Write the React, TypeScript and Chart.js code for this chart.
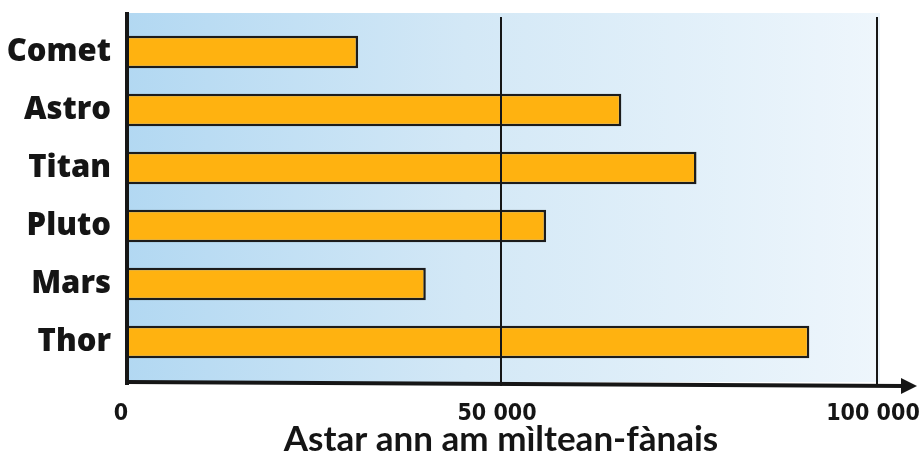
import React, { useEffect, useRef } from "react";
import { Chart, registerables } from "chart.js";

Chart.register(...registerables);

const categories = ["Comet", "Astro", "Titan", "Pluto", "Mars", "Thor"];
const values = [31000, 66000, 76000, 56000, 40000, 91000];
const tickValues = [0, 50000, 100000];
const tickLabels = ["0", "50 000", "100 000"];
const axisTitle = "Astar ann am mìltean-fànais";

const decorPlugin = {
  id: "decor",
  beforeDatasetsDraw(chart: any) {
    const { ctx, chartArea } = chart;
    const xs = chart.scales.x;
    const left = chartArea.left;
    const right = xs.getPixelForValue(100000) + 3;
    const top = chartArea.top - 10;
    const bottom = chartArea.bottom + 11;
    ctx.save();
    const g = ctx.createLinearGradient(left, 0, right, 0);
    g.addColorStop(0, "#b2d8f2");
    g.addColorStop(0.45, "#d3e8f6");
    g.addColorStop(1, "#eef6fc");
    ctx.fillStyle = g;
    ctx.fillRect(left, top, right - left, bottom - top);
    ctx.restore();
  },
  afterDatasetsDraw(chart: any) {
    const { ctx, chartArea } = chart;
    const xs = chart.scales.x;
    const left = chartArea.left;
    const bottom = chartArea.bottom + 11;
    ctx.save();
    ctx.strokeStyle = "#161616";
    ctx.lineWidth = 2;
    tickValues.forEach((v) => {
      if (v === 0) return;
      const px = xs.getPixelForValue(v);
      ctx.beginPath();
      ctx.moveTo(px, chartArea.top - 6);
      ctx.lineTo(px, bottom + 4);
      ctx.stroke();
    });
    ctx.lineWidth = 4;
    ctx.beginPath();
    ctx.moveTo(left + 2, chartArea.top - 11);
    ctx.lineTo(left + 2, bottom + 3);
    ctx.stroke();
    const axisEnd = xs.getPixelForValue(100000) + 28;
    ctx.lineWidth = 4;
    ctx.beginPath();
    ctx.moveTo(left, bottom);
    ctx.lineTo(axisEnd, bottom + 4);
    ctx.stroke();
    ctx.fillStyle = "#161616";
    ctx.beginPath();
    ctx.moveTo(axisEnd + 12, bottom + 4);
    ctx.lineTo(axisEnd - 4, bottom - 4);
    ctx.lineTo(axisEnd - 4, bottom + 12);
    ctx.closePath();
    ctx.fill();
    ctx.restore();
  },
};

export default function App() {
  const ref = useRef<HTMLCanvasElement | null>(null);
  useEffect(() => {
    if (!ref.current) return;
    const chart = new Chart(ref.current, {
      type: "bar",
      data: {
        labels: categories,
        datasets: [
          {
            data: values,
            backgroundColor: (c: any) => {
              const chartObj = c.chart;
              const el = c.element;
              if (!el || !chartObj.chartArea) return "#ffb210";
              const props = el.getProps ? el.getProps(["y", "height"], true) : el;
              const y0 = props.y - props.height / 2;
              const y1 = props.y + props.height / 2;
              if (!isFinite(y0) || !isFinite(y1) || y0 === y1) return "#ffb210";
              const g = chartObj.ctx.createLinearGradient(0, y0, 0, y1);
              g.addColorStop(0, "#ffc62a");
              g.addColorStop(0.5, "#ffb40c");
              g.addColorStop(1, "#fb9a00");
              return g;
            },
            borderColor: "#1c1c1c",
            borderWidth: 2.5,
            borderSkipped: false,
            barPercentage: 0.9,
            categoryPercentage: 0.62,
          },
        ],
      },
      options: {
        indexAxis: "y",
        animation: false,
        responsive: false,
        maintainAspectRatio: false,
        layout: { padding: { top: 23, right: 43, bottom: 0, left: 0 } },
        plugins: { legend: { display: false }, tooltip: { enabled: false } },
        scales: {
          x: {
            type: "linear",
            min: 0,
            max: 100000,
            afterBuildTicks: (s: any) => {
              s.ticks = tickValues.map((v) => ({ value: v }));
            },
            afterFit: (s: any) => {
              s.height = 84;
              s.paddingLeft = 0;
              s.paddingRight = 0;
            },
            grid: { display: false, drawTicks: false },
            border: { display: false },
            ticks: {
              padding: 29,
              labelOffset: -4,
              color: "#151515",
              font: { family: "DejaVu Sans Condensed", size: 23, weight: "bold" },
              callback: (v: any) => {
                const i = tickValues.indexOf(Number(v));
                return i >= 0 ? tickLabels[i] : "";
              },
            },
            title: {
              display: true,
              text: axisTitle,
              color: "#151515",
              font: { family: "Lato", size: 35, weight: "bold" },
              padding: { top: 0, bottom: -6 },
            },
          },
          y: {
            type: "category",
            grid: { display: false, drawTicks: false },
            border: { display: false },
            afterFit: (s: any) => {
              s.width = 125;
              s.paddingTop = 0;
              s.paddingBottom = 0;
            },
            ticks: {
              padding: 14,
              color: "#151515",
              font: { family: "Open Sans", size: 31, weight: "800" },
            },
          },
        },
      },
      plugins: [decorPlugin],
    });
    return () => chart.destroy();
  }, []);
  return (
    <div style={{ position: "fixed", left: 0, top: 0, width: 920, height: 455, background: "#fff" }}>
      <canvas ref={ref} width={920} height={455} style={{ display: "block" }} />
    </div>
  );
}
